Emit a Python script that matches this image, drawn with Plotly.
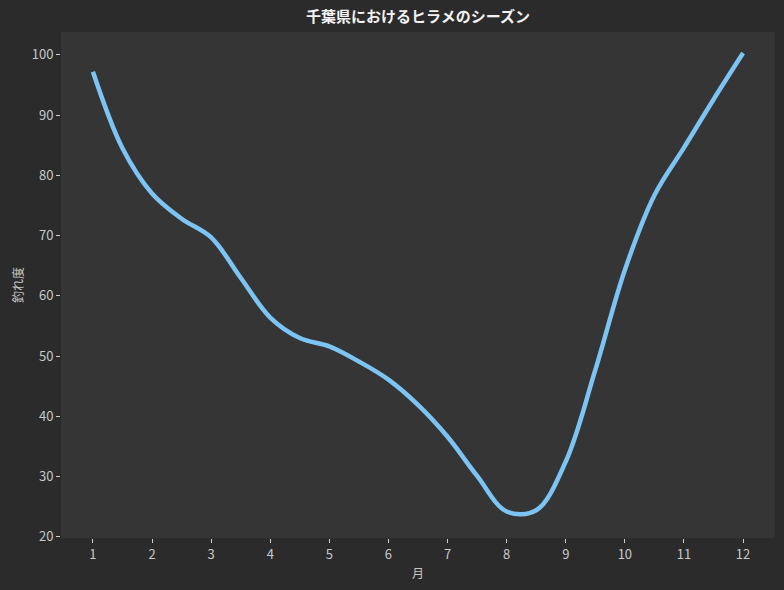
import plotly.graph_objects as go

# 月（半月刻み）と釣れ度
months = [1, 1.5, 2, 2.5, 3, 3.5, 4, 4.5, 5, 5.5, 6, 6.5, 7, 7.5, 8, 8.5, 9, 9.5, 10, 10.5, 11, 11.5, 12]
scores = [97.2, 84.5, 77.0, 72.8, 69.7, 63.0, 56.4, 53.0, 51.6, 49.1, 46.1, 41.9, 36.6, 30.1, 24.2, 24.4, 32.5, 47.7, 64.3, 76.7, 84.6, 92.6, 100.3]
x_ticks = list(range(1, 13))
y_ticks = [20, 30, 40, 50, 60, 70, 80, 90, 100]

font_family = "Noto Sans CJK JP"

fig = go.Figure()
fig.add_trace(go.Scatter(
    x=months, y=scores, mode="lines",
    line=dict(color="#7cc4f4", width=4.5, shape="spline", smoothing=1.0),
    showlegend=False,
))

fig.update_layout(
    width=784, height=590,
    margin=dict(l=61, r=9, t=32, b=52),
    paper_bgcolor="#2b2b2b",
    plot_bgcolor="#353535",
    font=dict(family=font_family, color="#d0d0d0", size=13),
    title=dict(
        text="<b>千葉県におけるヒラメのシーズン</b>",
        x=0.5, xref="paper", xanchor="center",
        y=0.972, yref="container", yanchor="middle",
        font=dict(size=15, color="#f2f2f2", family=font_family),
    ),
)
fig.update_xaxes(
    range=[0.46, 12.54], tickvals=x_ticks, ticktext=[str(m) for m in x_ticks],
    showgrid=False, zeroline=False, showline=False,
    ticks="outside", ticklen=4, tickcolor="#d0d0d0", tickwidth=1,
    tickfont=dict(size=13, color="#c8c8c8"),
    title=dict(text="月", font=dict(size=12, color="#c8c8c8"), standoff=8),
)
fig.update_yaxes(
    range=[19.8, 103.8], tickvals=y_ticks,
    showgrid=False, zeroline=False, showline=False,
    ticks="outside", ticklen=4, tickcolor="#d0d0d0", tickwidth=1,
    tickfont=dict(size=13, color="#c8c8c8"),
    title=dict(text="釣れ度", font=dict(size=12, color="#c8c8c8"), standoff=5),
)

fig.write_html(
    "out.html",
    config={"displayModeBar": False},
    post_script="document.body.style.margin = '0';",
)
